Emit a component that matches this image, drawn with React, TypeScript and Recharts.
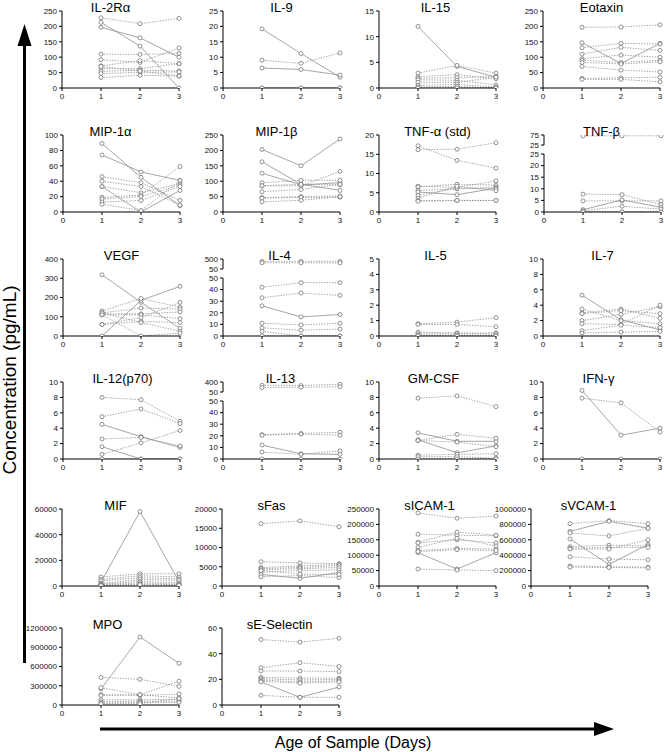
import React from 'react';
import { LineChart, Line, XAxis, YAxis } from 'recharts';

// sample age in days
const DAYS = [1, 2, 3];
const X_TICKS = [0, 1, 2, 3];

// one row per subject: [day1, day2, day3], pg/mL
const IL2RA = [[228, 209, 226], [213, 136, 0], [197, 163, 100], [110, 109, 112], [92, 83, 130], [72, 89, 79], [63, 63, 79], [54, 58, 55], [47, 51, 52], [34, 41, 39], [70, 55, 39]];
const IL9 = [[19.2, 11.2, 3.5], [9, 8, 11.4], [6.5, 6, 4.2], [0, 0, 0], [0, 0, 0]];
const IL15 = [[12, 4.2, 2.1], [2.9, 4.4, 2.9], [2.2, 2.6, 1.8], [1.9, 2.0, 2.3], [1.6, 1.5, 0.6], [1.1, 1.1, 2.1], [0.5, 0.7, 0.2], [0.2, 0.3, 0], [0, 0, 0]];
const EOTAXIN = [[197, 198, 205], [147, 80, 145], [131, 145, 143], [110, 132, 122], [95, 107, 100], [90, 83, 90], [83, 78, 85], [70, 58, 52], [31, 33, 35], [28, 28, 20]];
const MIP1A = [[89, 45, 8], [74, 52, 41], [46, 38, 15], [40, 33, 9], [33, 0, 28], [33, 25, 37], [19, 22, 59], [17, 20, 35], [13, 15, 33], [10, 2, 41]];
const MIP1B = [[203, 150, 237], [163, 90, 70], [126, 88, 95], [95, 103, 103], [85, 85, 132], [85, 90, 88], [66, 73, 90], [47, 50, 52], [45, 47, 48], [33, 38, 50]];
const TNFA = [[17.2, 13.4, 11.4], [16.2, 16.3, 18.0], [6.7, 6.4, 8.1], [6.5, 7.2, 7.0], [5.6, 6.0, 6.5], [5.2, 4.5, 6.2], [4.3, 6.2, 6.0], [3.6, 6.7, 5.5], [3.0, 3.0, 3.0], [2.8, 3.0, 3.0]];
const TNFB = [[70, 71, 71], [7.7, 7.5, 3.2], [4.8, 4.8, 4.8], [1.0, 5.2, 2.0], [0.5, 2.5, 1.2], [0, 0, 0], [0, 0, 0]];
const VEGF = [[318, 175, 40], [0, 185, 258], [130, 195, 150], [120, 145, 140], [115, 115, 125], [110, 110, 90], [60, 95, 175], [60, 75, 70], [120, 70, 25], [110, 0, 15]];
const IL4 = [[390, 395, 392], [330, 330, 325], [42, 46, 46], [33, 37, 35], [26, 16.5, 18.5], [11, 9.5, 11], [7, 5, 6], [4, 0, 0], [0, 0, 0]];
const IL5 = [[0.8, 0.9, 1.2], [0.75, 0.75, 0.6], [0.25, 0.2, 0.2], [0.15, 0.15, 0.15], [0.05, 0.05, 0.05], [0, 0, 0]];
const IL7 = [[5.3, 2.1, 0.8], [3.5, 2.0, 1.6], [3.0, 3.5, 2.3], [2.9, 3.3, 2.9], [2.0, 2.8, 3.8], [1.6, 1.5, 4.0], [0.7, 1.4, 1.1], [0.4, 0.5, 0.6]];
const IL12 = [[8.0, 7.7, 4.9], [5.5, 6.5, 4.6], [4.5, 2.9, 1.5], [2.6, 2.8, 1.7], [1.6, 0, 0], [0.6, 2.1, 3.7], [0, 0, 0]];
const IL13 = [[283, 275, 321], [205, 216, 234], [21, 22, 23], [20.5, 21.5, 20.5], [12, 4.5, 4], [6, 4, 7], [0, 0, 0]];
const GMCSF = [[7.9, 8.2, 6.8], [3.4, 2.3, 2.3], [2.5, 0.8, 1.7], [2.4, 3.2, 2.7], [2.4, 2.2, 1.6], [0.5, 0.6, 0.7], [0.3, 0.3, 0.1], [0, 0, 0]];
const IFNG = [[8.9, 3.1, 4.0], [7.9, 7.3, 3.5], [0, 0, 0]];
const MIF = [[3000, 58000, 3500], [7000, 9500, 9500], [5000, 8000, 7000], [4000, 6500, 5500], [2000, 5000, 4500], [1500, 3500, 2500], [1000, 2500, 1500], [500, 1500, 1000], [300, 1000, 500]];
const SFAS = [[16200, 16900, 15400], [6300, 6000, 5800], [4800, 5200, 5600], [4500, 4800, 5300], [4200, 4500, 4800], [3600, 4000, 4200], [3000, 2000, 3500], [2400, 2700, 2200], [4000, 3100, 3000]];
const SICAM = [[237000, 220000, 227000], [168000, 165000, 163000], [142000, 175000, 165000], [140000, 150000, 140000], [125000, 155000, 130000], [115000, 122000, 120000], [108000, 55000, 108000], [112000, 118000, 115000], [55000, 52000, 50000]];
const SVCAM = [[810000, 850000, 810000], [710000, 840000, 750000], [690000, 650000, 750000], [610000, 280000, 540000], [510000, 530000, 520000], [490000, 500000, 500000], [480000, 480000, 600000], [380000, 350000, 340000], [260000, 250000, 245000], [245000, 240000, 235000]];
const MPO = [[250000, 1060000, 650000], [430000, 400000, 290000], [270000, 160000, 370000], [160000, 150000, 170000], [150000, 160000, 110000], [80000, 80000, 90000], [50000, 60000, 60000], [30000, 40000, 40000], [20000, 20000, 100000]];
const SESEL = [[51, 49, 52], [29, 33, 30], [26.5, 26.5, 26], [21.5, 21, 21], [20.5, 19.5, 20], [19.5, 18, 19], [18.5, 17, 18], [18, 6, 14], [7.5, 6, 6]];

const step = (max: number, by: number) => Array.from({ length: Math.round(max / by) + 1 }, (_, i) => i * by);

type Panel = {
  title: string;
  series: number[][];
  max: number;
  by: number;
  solid: number[];
  brk?: { at: number; top: number };
};

const PANELS: Panel[] = [
  { title: 'IL-2R\u03b1', series: IL2RA, max: 250, by: 50, solid: [1, 2] },
  { title: 'IL-9', series: IL9, max: 25, by: 5, solid: [0, 2] },
  { title: 'IL-15', series: IL15, max: 15, by: 5, solid: [0] },
  { title: 'Eotaxin', series: EOTAXIN, max: 250, by: 50, solid: [1] },
  { title: 'MIP-1\u03b1', series: MIP1A, max: 100, by: 20, solid: [0, 1, 4] },
  { title: 'MIP-1\u03b2', series: MIP1B, max: 250, by: 50, solid: [0, 1, 2] },
  { title: 'TNF-\u03b1 (std)', series: TNFA, max: 20, by: 5, solid: [5] },
  { title: 'TNF-\u03b2', series: TNFB, max: 25, by: 5, solid: [3], brk: { at: 25, top: 75 } },
  { title: 'VEGF', series: VEGF, max: 400, by: 100, solid: [0, 1] },
  { title: 'IL-4', series: IL4, max: 50, by: 10, solid: [4], brk: { at: 50, top: 500 } },
  { title: 'IL-5', series: IL5, max: 5, by: 1, solid: [] },
  { title: 'IL-7', series: IL7, max: 10, by: 2, solid: [0] },
  { title: 'IL-12(p70)', series: IL12, max: 10, by: 2, solid: [2, 4] },
  { title: 'IL-13', series: IL13, max: 50, by: 10, solid: [4], brk: { at: 50, top: 400 } },
  { title: 'GM-CSF', series: GMCSF, max: 10, by: 2, solid: [1, 2] },
  { title: 'IFN-\u03b3', series: IFNG, max: 10, by: 2, solid: [0] },
  { title: 'MIF', series: MIF, max: 60000, by: 20000, solid: [0] },
  { title: 'sFas', series: SFAS, max: 20000, by: 5000, solid: [6] },
  { title: 'sICAM-1', series: SICAM, max: 250000, by: 50000, solid: [6] },
  { title: 'sVCAM-1', series: SVCAM, max: 1000000, by: 200000, solid: [1, 3] },
  { title: 'MPO', series: MPO, max: 1200000, by: 300000, solid: [0] },
  { title: 'sE-Selectin', series: SESEL, max: 60, by: 20, solid: [7] },
];

// axis origin x, top tick y, title nudge
const ROW_Y = [11, 135, 259, 382, 509, 628];
const COL_X = [[62, 223, 379, 543], [63, 223, 379, 544], [63, 223, 379, 543], [63, 223, 379, 543], [62, 222, 379, 531], [62, 222]];
const TITLE_DX = [-10, 0, -2, 0, -11, -5, 0, -1, 0, -2, -2, 1, 1, -1, -4, -3, -5, -9, -8, -1, -13, -1];

const FONT = 'Arial, "Liberation Sans", sans-serif';
const YW = 50;
const PW = 117;
const PH = 77;
const MT = 6;
const MR = 6;
const XH = 16;
const BRK_H = 10;
const BRK_GAP = 19;
const LINE = '#8e8e8e';

const axisProps = {
  axisLine: { stroke: '#000', strokeWidth: 1 },
  tickLine: { stroke: '#000', strokeWidth: 1 },
  tickSize: 3,
  tick: { fontSize: 8, fill: '#111', fontFamily: FONT },
  interval: 0 as const,
};

function Plot({ series, solid, domain, ticks, h, showX, left, top }: {
  series: number[][]; solid: boolean[]; domain: [number, number]; ticks: number[];
  h: number; showX: boolean; left: number; top: number;
}) {
  const data = DAYS.map((d, i) => {
    const row: any = { day: d };
    series.forEach((s, k) => { row['s' + k] = s[i]; });
    return row;
  });
  const mb = showX ? 0 : 6;
  return (
    <div style={{ position: 'absolute', left: left - YW, top: top - MT }}>
      <LineChart width={YW + PW + MR} height={MT + h + (showX ? XH : mb)} data={data}
        margin={{ top: MT, right: MR, bottom: mb, left: 0 }}>
        <XAxis dataKey="day" type="number" domain={[0, 3]} ticks={X_TICKS} hide={!showX} height={XH} {...axisProps} />
        <YAxis type="number" domain={domain} ticks={ticks} allowDataOverflow width={YW} {...axisProps} />
        {series.map((_, k) => (
          <Line key={k} dataKey={'s' + k} type="linear" stroke={LINE} strokeWidth={0.8}
            strokeDasharray={solid[k] ? undefined : '1.4 1.3'}
            dot={{ r: 2, stroke: '#666', strokeWidth: 0.7, fill: '#fff', strokeDasharray: '' }}
            isAnimationActive={false} />
        ))}
      </LineChart>
    </div>
  );
}

function PanelView({ p, x, y, dx }: { p: Panel; x: number; y: number; dx: number }) {
  const solid = p.series.map((_, k) => p.solid.includes(k));
  const title = (
    <div style={{ position: 'absolute', left: x + PW / 2 + dx - 60, top: y - 11, width: 120, textAlign: 'center', fontSize: 13, lineHeight: '15px', fontFamily: FONT, color: '#000' }}>
      {p.title}
    </div>
  );
  if (!p.brk) {
    return (
      <>
        <Plot series={p.series} solid={solid} domain={[0, p.max]} ticks={step(p.max, p.by)} h={PH} showX left={x} top={y} />
        {title}
      </>
    );
  }
  const { at, top } = p.brk;
  const isHi = (k: number) => Math.min(...p.series[k]) > at;
  const hi = p.series.filter((_, k) => isHi(k));
  const lo = p.series.filter((_, k) => !isHi(k));
  const hiSolid = solid.filter((_, k) => isHi(k));
  const loSolid = solid.filter((_, k) => !isHi(k));
  return (
    <>
      <Plot series={hi} solid={hiSolid} domain={[at, top]} ticks={[at, top]} h={BRK_H} showX={false} left={x} top={y} />
      <Plot series={lo} solid={loSolid} domain={[0, p.max]} ticks={step(p.max, p.by)} h={PH - BRK_GAP} showX left={x} top={y + BRK_GAP} />
      {title}
    </>
  );
}

export default function App() {
  let n = 0;
  const views: React.ReactNode[] = [];
  ROW_Y.forEach((y, r) => {
    COL_X[r].forEach((x) => {
      const p = PANELS[n];
      views.push(<PanelView key={n} p={p} x={x} y={y} dx={TITLE_DX[n]} />);
      n++;
    });
  });
  return (
    <div style={{ position: 'absolute', left: 0, top: 0, width: 664, height: 752, background: '#fff', fontFamily: FONT, overflow: 'hidden' }}>
      {views}
      <svg width={664} height={752} style={{ position: 'absolute', left: 0, top: 0, pointerEvents: 'none' }}>
        {/* y arrow */}
        <rect x={23} y={44} width={3} height={619} fill="#000" />
        <polygon points="24.5,24 17.5,46 31.5,46" fill="#000" />
        {/* x arrow */}
        <rect x={100} y={727.5} width={496} height={3} fill="#000" />
        <polygon points="614,729 594,722 594,736" fill="#000" />
        <text x={9} y={380} transform="rotate(-90 9 380)" textAnchor="middle" dominantBaseline="central"
          fontSize={19} fontFamily={FONT} fill="#000">Concentration (pg/mL)</text>
        <text x={353} y={742} textAnchor="middle" dominantBaseline="central"
          fontSize={16} fontFamily={FONT} fill="#000">Age of Sample (Days)</text>
      </svg>
    </div>
  );
}
